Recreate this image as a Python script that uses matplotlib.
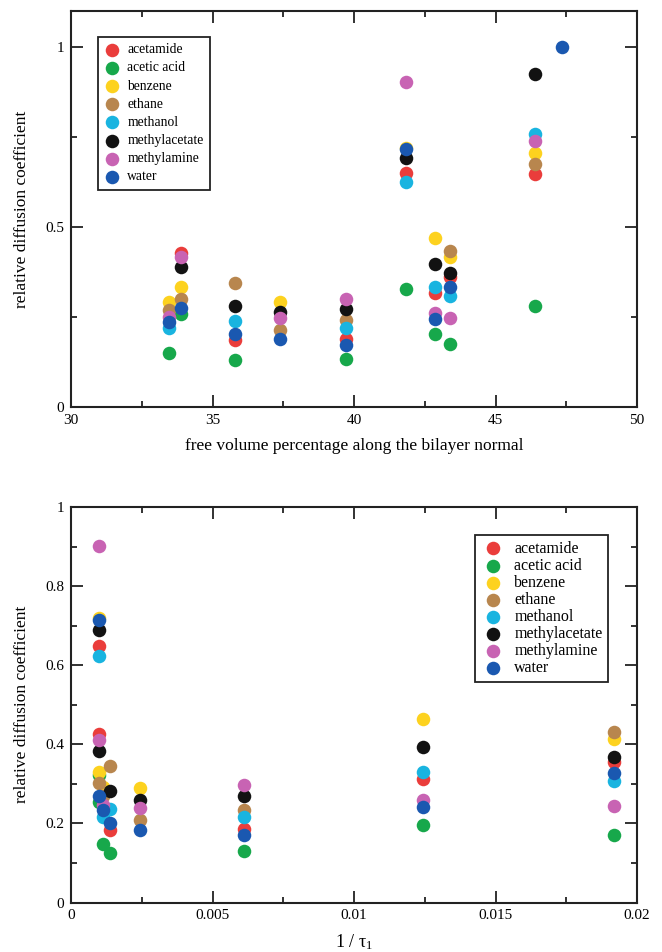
import numpy as np
import matplotlib
matplotlib.use("Agg")
import matplotlib.pyplot as plt
from matplotlib.ticker import MultipleLocator, FuncFormatter

plt.rcParams['font.family'] = ['Liberation Serif', 'DejaVu Serif']
plt.rcParams['mathtext.fontset'] = 'custom'
plt.rcParams['mathtext.rm'] = 'Liberation Serif'
plt.rcParams['mathtext.it'] = 'Liberation Serif:italic'

nan = np.nan
species = ["acetamide", "acetic acid", "benzene", "ethane", "methanol",
           "methylacetate", "methylamine", "water"]
colors = ["#ea3d3b", "#17a84b", "#fdd21f", "#b8864e", "#19b4e0",
          "#121212", "#c863b3", "#1a58b0"]

# ---- top panel: free volume percentage ----
fv_x = [33.45, 33.87, 35.8, 37.4, 39.7, 41.85, 42.85, 43.4, 46.4, 47.35]
fv_acetamide     = [nan, 0.427, 0.186, nan, 0.188, 0.649, 0.316, 0.362, 0.647, nan]
fv_acetic_acid   = [0.151, 0.258, 0.131, nan, 0.132, 0.327, 0.202, 0.175, 0.281, nan]
fv_benzene       = [0.292, 0.334, nan, 0.292, nan, 0.720, 0.469, 0.416, 0.705, nan]
fv_ethane        = [0.269, 0.301, 0.344, 0.214, 0.242, nan, nan, 0.433, 0.674, nan]
fv_methanol      = [0.219, nan, 0.240, nan, 0.219, 0.624, 0.334, 0.309, 0.757, nan]
fv_methylacetate = [nan, 0.388, 0.281, 0.265, 0.271, 0.691, 0.396, 0.373, 0.924, nan]
fv_methylamine   = [0.250, 0.416, nan, 0.246, 0.299, 0.904, 0.262, 0.246, 0.739, nan]
fv_water         = [0.237, 0.274, 0.202, 0.188, 0.172, 0.716, 0.244, 0.332, nan, 1.000]
fv_series = [fv_acetamide, fv_acetic_acid, fv_benzene, fv_ethane, fv_methanol,
             fv_methylacetate, fv_methylamine, fv_water]

# ---- bottom panel: 1/tau_1 ----
tau_x = [0.00100, 0.00100, 0.00112, 0.00138, 0.00244, 0.00611, 0.01245, 0.01919]
tau_acetamide     = [0.648, 0.427, nan, 0.184, nan, 0.185, 0.312, 0.356]
tau_acetic_acid   = [0.322, 0.255, 0.148, 0.125, nan, 0.129, 0.196, 0.171]
tau_benzene       = [0.720, 0.331, 0.292, nan, 0.289, nan, 0.465, 0.414]
tau_ethane        = [nan, 0.302, 0.269, 0.344, 0.209, 0.234, nan, 0.430]
tau_methanol      = [0.622, nan, 0.215, 0.236, nan, 0.216, 0.331, 0.306]
tau_methylacetate = [0.690, 0.384, nan, 0.282, 0.258, 0.270, 0.392, 0.369]
tau_methylamine   = [0.902, 0.411, 0.246, nan, 0.240, 0.297, 0.259, 0.244]
tau_water         = [0.715, 0.270, 0.234, 0.200, 0.184, 0.171, 0.241, 0.327]
tau_series = [tau_acetamide, tau_acetic_acid, tau_benzene, tau_ethane, tau_methanol,
              tau_methylacetate, tau_methylamine, tau_water]

fig = plt.figure(figsize=(6.62, 9.52), dpi=100)
ax1 = fig.add_axes([71/662, 1-407/952, 566/662, 396/952])
ax2 = fig.add_axes([71/662, 1-902.5/952, 566/662, 395.5/952])

fmt = FuncFormatter(lambda v, p: f"{v:g}")
MS = 95

def style(ax):
    for s in ax.spines.values():
        s.set_linewidth(1.5)
        s.set_color("#222222")
    ax.tick_params(which='both', direction='in', top=True, right=True,
                   color="#222222", width=1.3, labelsize=11)
    ax.tick_params(which='major', length=8.5, pad=5)
    ax.tick_params(which='minor', length=4.5)
    ax.xaxis.set_major_formatter(fmt)
    ax.yaxis.set_major_formatter(fmt)

for name, c, ys in zip(species, colors, fv_series):
    ax1.scatter(fv_x, ys, s=MS, color=c, label=name, linewidths=0, zorder=3)
ax1.set_xlim(30, 50)
ax1.set_ylim(0, 1.1)
ax1.xaxis.set_major_locator(MultipleLocator(5))
ax1.xaxis.set_minor_locator(MultipleLocator(2.5))
ax1.yaxis.set_major_locator(MultipleLocator(0.5))
ax1.yaxis.set_minor_locator(MultipleLocator(0.25))
style(ax1)
ax1.set_xlabel("free volume percentage along the bilayer normal", fontsize=12.5, labelpad=8)
ax1.set_ylabel("relative diffusion coefficient", fontsize=12.5, labelpad=11)
leg1 = ax1.legend(loc='upper left', bbox_to_anchor=(0.048, 0.934), borderaxespad=0,
                  fontsize=9.8, frameon=True, fancybox=False, framealpha=1,
                  edgecolor="#222222", labelspacing=0.38, handletextpad=0.5,
                  borderpad=0.45, handlelength=1.2, scatterpoints=1)
leg1.get_frame().set_linewidth(1.3)

for name, c, ys in zip(species, colors, tau_series):
    ax2.scatter(tau_x, ys, s=MS, color=c, label=name, linewidths=0, zorder=3)
ax2.set_xlim(0, 0.02)
ax2.set_ylim(0, 1)
ax2.xaxis.set_major_locator(MultipleLocator(0.005))
ax2.xaxis.set_minor_locator(MultipleLocator(0.0025))
ax2.yaxis.set_major_locator(MultipleLocator(0.2))
ax2.yaxis.set_minor_locator(MultipleLocator(0.1))
style(ax2)
ax2.set_xlabel("1 / τ$_\\mathrm{1}$", fontsize=13, labelpad=7)
ax2.set_ylabel("relative diffusion coefficient", fontsize=12.5, labelpad=11)
leg2 = ax2.legend(loc='upper right', bbox_to_anchor=(0.949, 0.929), borderaxespad=0,
                  fontsize=11.5, frameon=True, fancybox=False, framealpha=1,
                  edgecolor="#222222", labelspacing=0.065, handletextpad=0.6,
                  borderpad=0.35, handlelength=1.5, scatterpoints=1)
leg2.get_frame().set_linewidth(1.3)

fig.savefig("out.png", dpi=100)
